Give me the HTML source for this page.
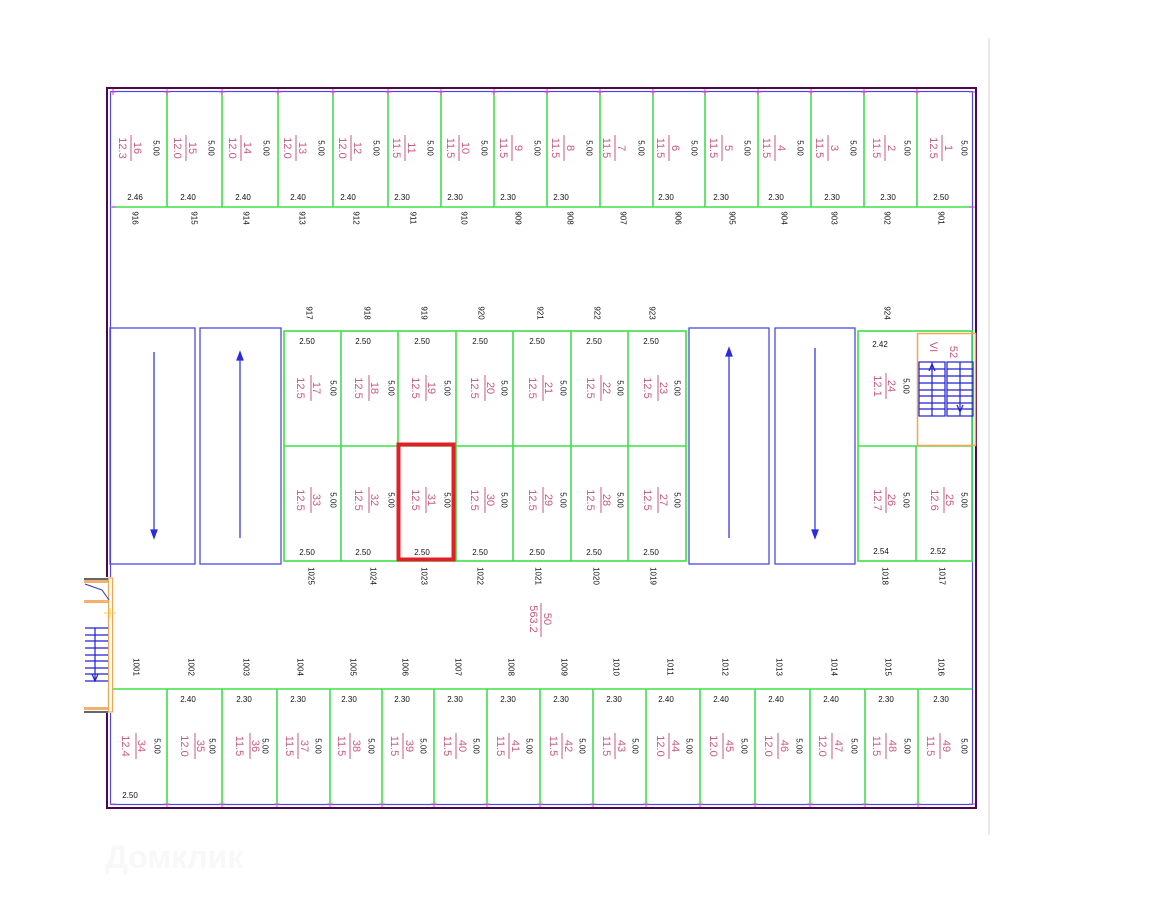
<!DOCTYPE html>
<html><head><meta charset="utf-8"><style>
html,body{margin:0;padding:0;background:#fff;}
svg{display:block;}
.p{font-family:"Liberation Sans",sans-serif;font-size:11px;fill:#c85a80;writing-mode:vertical-rl;text-anchor:middle;}
.b{font-family:"Liberation Sans",sans-serif;font-size:8px;fill:#111;writing-mode:vertical-rl;text-anchor:middle;}
.h{font-family:"Liberation Sans",sans-serif;font-size:8px;fill:#111;text-anchor:middle;}
.g{stroke:#3ee04a;stroke-width:1.6;fill:none;}
.bl{stroke:#4a4ae0;stroke-width:1.3;fill:none;}
.fl{stroke:#c85a80;stroke-width:1;}
</style></head><body>
<svg width="1152" height="915" viewBox="0 0 1152 915" xmlns="http://www.w3.org/2000/svg">
<line x1="989" y1="38" x2="989" y2="835" stroke="#e2e2e2" stroke-width="1.5"/>
<rect x="107" y="88" width="869" height="720" fill="none" stroke="#4a0a4a" stroke-width="2"/>
<rect x="110.5" y="91.5" width="862" height="713" fill="none" stroke="#4a4ae0" stroke-width="1.2"/>
<line class="g" x1="112" y1="207" x2="972" y2="207"/>
<g class="g">
<line x1="167" y1="92" x2="167" y2="207"/><line x1="222" y1="92" x2="222" y2="207"/><line x1="278" y1="92" x2="278" y2="207"/><line x1="333" y1="92" x2="333" y2="207"/><line x1="388" y1="92" x2="388" y2="207"/><line x1="441" y1="92" x2="441" y2="207"/><line x1="494" y1="92" x2="494" y2="207"/><line x1="547" y1="92" x2="547" y2="207"/><line x1="600" y1="92" x2="600" y2="207"/><line x1="653" y1="92" x2="653" y2="207"/><line x1="705" y1="92" x2="705" y2="207"/><line x1="758" y1="92" x2="758" y2="207"/><line x1="811" y1="92" x2="811" y2="207"/><line x1="864" y1="92" x2="864" y2="207"/><line x1="917" y1="92" x2="917" y2="207"/>
</g>
<g stroke="#e040e0" stroke-width="1">
<path d="M110 92h6M113 89v6M164 92h6M219 92h6M275 92h6M330 92h6M385 92h6M438 92h6M491 92h6M544 92h6M597 92h6M650 92h6M702 92h6M755 92h6M808 92h6M861 92h6M914 92h6M969 92h6M110 207h6M969 207h6M164 804h6M219 804h6M274 804h6M327 804h6M379 804h6M431 804h6M484 804h6M537 804h6M590 804h6M643 804h6M697 804h6M752 804h6M807 804h6M862 804h6M915 804h6M110 804h6M969 804h6M167 89v6M222 89v6M278 89v6M333 89v6M388 89v6M441 89v6M494 89v6M547 89v6M600 89v6M653 89v6M705 89v6M758 89v6M811 89v6M864 89v6M917 89v6M167 801v6M222 801v6M277 801v6M330 801v6M382 801v6M434 801v6M487 801v6M540 801v6M593 801v6M646 801v6M700 801v6M755 801v6M810 801v6M865 801v6M918 801v6"/>
</g>
<g>
<text class="p" x="122" y="148">12.3</text><text class="p" x="137" y="148">16</text><line class="fl" x1="131" y1="135" x2="131" y2="161"/><text class="b" x="156" y="148">5.00</text>
<text class="p" x="177" y="148">12.0</text><text class="p" x="192" y="148">15</text><line class="fl" x1="186" y1="135" x2="186" y2="161"/><text class="b" x="211" y="148">5.00</text>
<text class="p" x="232" y="148">12.0</text><text class="p" x="247" y="148">14</text><line class="fl" x1="241" y1="135" x2="241" y2="161"/><text class="b" x="266" y="148">5.00</text>
<text class="p" x="287" y="148">12.0</text><text class="p" x="302" y="148">13</text><line class="fl" x1="296" y1="135" x2="296" y2="161"/><text class="b" x="321" y="148">5.00</text>
<text class="p" x="342" y="148">12.0</text><text class="p" x="357" y="148">12</text><line class="fl" x1="351" y1="135" x2="351" y2="161"/><text class="b" x="376" y="148">5.00</text>
<text class="p" x="396" y="148">11.5</text><text class="p" x="411" y="148">11</text><line class="fl" x1="405" y1="135" x2="405" y2="161"/><text class="b" x="430" y="148">5.00</text>
<text class="p" x="450" y="148">11.5</text><text class="p" x="465" y="148">10</text><line class="fl" x1="459" y1="135" x2="459" y2="161"/><text class="b" x="484" y="148">5.00</text>
<text class="p" x="503" y="148">11.5</text><text class="p" x="518" y="148">9</text><line class="fl" x1="512" y1="135" x2="512" y2="161"/><text class="b" x="537" y="148">5.00</text>
<text class="p" x="555" y="148">11.5</text><text class="p" x="570" y="148">8</text><line class="fl" x1="564" y1="135" x2="564" y2="161"/><text class="b" x="589" y="148">5.00</text>
<text class="p" x="606" y="148">11.5</text><text class="p" x="621" y="148">7</text><line class="fl" x1="615" y1="135" x2="615" y2="161"/><text class="b" x="641" y="148">5.00</text>
<text class="p" x="660" y="148">11.5</text><text class="p" x="675" y="148">6</text><line class="fl" x1="669" y1="135" x2="669" y2="161"/><text class="b" x="694" y="148">5.00</text>
<text class="p" x="713" y="148">11.5</text><text class="p" x="728" y="148">5</text><line class="fl" x1="722" y1="135" x2="722" y2="161"/><text class="b" x="747" y="148">5.00</text>
<text class="p" x="766" y="148">11.5</text><text class="p" x="781" y="148">4</text><line class="fl" x1="775" y1="135" x2="775" y2="161"/><text class="b" x="800" y="148">5.00</text>
<text class="p" x="819" y="148">11.5</text><text class="p" x="834" y="148">3</text><line class="fl" x1="828" y1="135" x2="828" y2="161"/><text class="b" x="853" y="148">5.00</text>
<text class="p" x="876" y="148">11.5</text><text class="p" x="891" y="148">2</text><line class="fl" x1="885" y1="135" x2="885" y2="161"/><text class="b" x="907" y="148">5.00</text>
<text class="p" x="933" y="148">12.5</text><text class="p" x="948" y="148">1</text><line class="fl" x1="942" y1="135" x2="942" y2="161"/><text class="b" x="964" y="148">5.00</text>
</g>
<g class="h">
<text x="135" y="200">2.46</text><text x="188" y="200">2.40</text><text x="243" y="200">2.40</text><text x="298" y="200">2.40</text><text x="348" y="200">2.40</text><text x="402" y="200">2.30</text><text x="455" y="200">2.30</text><text x="508" y="200">2.30</text><text x="561" y="200">2.30</text><text x="666" y="200">2.30</text><text x="721" y="200">2.30</text><text x="776" y="200">2.30</text><text x="832" y="200">2.30</text><text x="888" y="200">2.30</text><text x="941" y="200">2.50</text>
</g>
<g>
<text class="b" x="135" y="218">916</text><text class="b" x="194" y="218">915</text><text class="b" x="246" y="218">914</text><text class="b" x="302" y="218">913</text><text class="b" x="356" y="218">912</text><text class="b" x="413" y="218">911</text><text class="b" x="464" y="218">910</text><text class="b" x="518" y="218">909</text><text class="b" x="570" y="218">908</text><text class="b" x="623" y="218">907</text><text class="b" x="678" y="218">906</text><text class="b" x="732" y="218">905</text><text class="b" x="784" y="218">904</text><text class="b" x="834" y="218">903</text><text class="b" x="887" y="218">902</text><text class="b" x="941" y="218">901</text>
<text class="b" x="309" y="313">917</text><text class="b" x="367" y="313">918</text><text class="b" x="424" y="313">919</text><text class="b" x="481" y="313">920</text><text class="b" x="540" y="313">921</text><text class="b" x="597" y="313">922</text><text class="b" x="652" y="313">923</text><text class="b" x="887" y="313">924</text>
<text class="b" x="311" y="576">1025</text><text class="b" x="373" y="576">1024</text><text class="b" x="424" y="576">1023</text><text class="b" x="480" y="576">1022</text><text class="b" x="538" y="576">1021</text><text class="b" x="596" y="576">1020</text><text class="b" x="653" y="576">1019</text><text class="b" x="885" y="576">1018</text><text class="b" x="942" y="576">1017</text>
<text class="b" x="136" y="667">1001</text><text class="b" x="191" y="667">1002</text><text class="b" x="246" y="667">1003</text><text class="b" x="300" y="667">1004</text><text class="b" x="353" y="667">1005</text><text class="b" x="405" y="667">1006</text><text class="b" x="458" y="667">1007</text><text class="b" x="511" y="667">1008</text><text class="b" x="564" y="667">1009</text><text class="b" x="616" y="667">1010</text><text class="b" x="670" y="667">1011</text><text class="b" x="725" y="667">1012</text><text class="b" x="779" y="667">1013</text><text class="b" x="834" y="667">1014</text><text class="b" x="888" y="667">1015</text><text class="b" x="941" y="667">1016</text>
</g>
<rect class="bl" x="110" y="328" width="85" height="236"/>
<rect class="bl" x="200" y="328" width="81" height="236"/>
<rect class="bl" x="689" y="328" width="80" height="236"/>
<rect class="bl" x="775" y="328" width="80" height="236"/>
<g stroke="#2a2ae0" stroke-width="1.2" fill="#2a2ae0">
<line x1="154" y1="352" x2="154" y2="536"/><path d="M151 530l3 8 3-8z"/>
<line x1="240" y1="356" x2="240" y2="538"/><path d="M237 360l3-8 3 8z"/>
<line x1="729" y1="352" x2="729" y2="538"/><path d="M726 356l3-8 3 8z"/>
<line x1="815" y1="348" x2="815" y2="536"/><path d="M812 530l3 8 3-8z"/>
</g>
<g class="g">
<rect x="284" y="331" width="402" height="230"/>
<line x1="284" y1="446" x2="686" y2="446"/>
<line x1="341" y1="331" x2="341" y2="561"/><line x1="398" y1="331" x2="398" y2="561"/><line x1="456" y1="331" x2="456" y2="561"/><line x1="513" y1="331" x2="513" y2="561"/><line x1="571" y1="331" x2="571" y2="561"/><line x1="628" y1="331" x2="628" y2="561"/>
<rect x="858" y="331" width="114" height="230"/>
<line x1="858" y1="446" x2="972" y2="446"/><line x1="916" y1="446" x2="916" y2="561"/>
</g>
<g class="h">
<text x="307" y="344">2.50</text><text x="363" y="344">2.50</text><text x="422" y="344">2.50</text><text x="480" y="344">2.50</text><text x="537" y="344">2.50</text><text x="594" y="344">2.50</text><text x="651" y="344">2.50</text>
<text x="307" y="555">2.50</text><text x="363" y="555">2.50</text><text x="422" y="555">2.50</text><text x="480" y="555">2.50</text><text x="537" y="555">2.50</text><text x="594" y="555">2.50</text><text x="651" y="555">2.50</text>
<text x="880" y="347">2.42</text><text x="881" y="554">2.54</text><text x="938" y="554">2.52</text>
</g>
<g>
<text class="p" x="300" y="388">12.5</text><text class="p" x="316" y="388">17</text><line class="fl" x1="311" y1="375" x2="311" y2="401"/><text class="b" x="333" y="388">5.00</text>
<text class="p" x="358" y="388">12.5</text><text class="p" x="374" y="388">18</text><line class="fl" x1="369" y1="375" x2="369" y2="401"/><text class="b" x="391" y="388">5.00</text>
<text class="p" x="415" y="388">12.5</text><text class="p" x="431" y="388">19</text><line class="fl" x1="426" y1="375" x2="426" y2="401"/><text class="b" x="447" y="388">5.00</text>
<text class="p" x="474" y="388">12.5</text><text class="p" x="490" y="388">20</text><line class="fl" x1="485" y1="375" x2="485" y2="401"/><text class="b" x="504" y="388">5.00</text>
<text class="p" x="532" y="388">12.5</text><text class="p" x="548" y="388">21</text><line class="fl" x1="543" y1="375" x2="543" y2="401"/><text class="b" x="563" y="388">5.00</text>
<text class="p" x="590" y="388">12.5</text><text class="p" x="606" y="388">22</text><line class="fl" x1="601" y1="375" x2="601" y2="401"/><text class="b" x="620" y="388">5.00</text>
<text class="p" x="647" y="388">12.5</text><text class="p" x="663" y="388">23</text><line class="fl" x1="658" y1="375" x2="658" y2="401"/><text class="b" x="677" y="388">5.00</text>
<text class="p" x="300" y="500">12.5</text><text class="p" x="316" y="500">33</text><line class="fl" x1="311" y1="487" x2="311" y2="513"/><text class="b" x="333" y="500">5.00</text>
<text class="p" x="358" y="500">12.5</text><text class="p" x="374" y="500">32</text><line class="fl" x1="369" y1="487" x2="369" y2="513"/><text class="b" x="391" y="500">5.00</text>
<text class="p" x="415" y="500">12.5</text><text class="p" x="431" y="500">31</text><line class="fl" x1="426" y1="487" x2="426" y2="513"/><text class="b" x="447" y="500">5.00</text>
<text class="p" x="474" y="500">12.5</text><text class="p" x="490" y="500">30</text><line class="fl" x1="485" y1="487" x2="485" y2="513"/><text class="b" x="504" y="500">5.00</text>
<text class="p" x="532" y="500">12.5</text><text class="p" x="548" y="500">29</text><line class="fl" x1="543" y1="487" x2="543" y2="513"/><text class="b" x="563" y="500">5.00</text>
<text class="p" x="590" y="500">12.5</text><text class="p" x="606" y="500">28</text><line class="fl" x1="601" y1="487" x2="601" y2="513"/><text class="b" x="620" y="500">5.00</text>
<text class="p" x="647" y="500">12.5</text><text class="p" x="663" y="500">27</text><line class="fl" x1="658" y1="487" x2="658" y2="513"/><text class="b" x="677" y="500">5.00</text>
<text class="p" x="877" y="386">12.1</text><text class="p" x="891" y="386">24</text><line class="fl" x1="886" y1="373" x2="886" y2="399"/><text class="b" x="906" y="386">5.00</text>
<text class="p" x="877" y="500">12.7</text><text class="p" x="891" y="500">26</text><line class="fl" x1="886" y1="487" x2="886" y2="513"/><text class="b" x="906" y="500">5.00</text>
<text class="p" x="934" y="500">12.6</text><text class="p" x="949" y="500">25</text><line class="fl" x1="944" y1="487" x2="944" y2="513"/><text class="b" x="964" y="500">5.00</text>
</g>
<rect x="398.5" y="444.5" width="55" height="115" fill="none" stroke="#e02028" stroke-width="4"/>
<rect x="917.5" y="333.5" width="58" height="112" fill="none" stroke="#f0a850" stroke-width="1.5"/>
<text class="p" x="933" y="347">VI</text><text class="p" x="953" y="352">52</text>
<g stroke="#2020d0" stroke-width="1.2" fill="none">
<rect x="919" y="362" width="26" height="54"/><rect x="947" y="362" width="26" height="54"/>
<path d="M919 369h26M919 376h26M919 383h26M919 390h26M919 396h26M919 403h26M919 409h26M947 369h26M947 376h26M947 383h26M947 390h26M947 396h26M947 403h26M947 409h26M932 362v54M960 362v54M929 371l3-7 3 7M957 405l3 7 3-7"/>
</g>
<text class="p" x="533" y="619">563.2</text><text class="p" x="547" y="619">50</text><line class="fl" x1="541" y1="603" x2="541" y2="637"/>
<line class="g" x1="112" y1="689" x2="972" y2="689"/>
<g class="g">
<line x1="167" y1="689" x2="167" y2="804"/><line x1="222" y1="689" x2="222" y2="804"/><line x1="277" y1="689" x2="277" y2="804"/><line x1="330" y1="689" x2="330" y2="804"/><line x1="382" y1="689" x2="382" y2="804"/><line x1="434" y1="689" x2="434" y2="804"/><line x1="487" y1="689" x2="487" y2="804"/><line x1="540" y1="689" x2="540" y2="804"/><line x1="593" y1="689" x2="593" y2="804"/><line x1="646" y1="689" x2="646" y2="804"/><line x1="700" y1="689" x2="700" y2="804"/><line x1="755" y1="689" x2="755" y2="804"/><line x1="810" y1="689" x2="810" y2="804"/><line x1="865" y1="689" x2="865" y2="804"/><line x1="918" y1="689" x2="918" y2="804"/>
</g>
<g class="h">
<text x="130" y="798">2.50</text><text x="188" y="702">2.40</text><text x="244" y="702">2.30</text><text x="298" y="702">2.30</text><text x="349" y="702">2.30</text><text x="402" y="702">2.30</text><text x="455" y="702">2.30</text><text x="508" y="702">2.30</text><text x="561" y="702">2.30</text><text x="614" y="702">2.30</text><text x="666" y="702">2.40</text><text x="721" y="702">2.40</text><text x="776" y="702">2.40</text><text x="831" y="702">2.40</text><text x="886" y="702">2.30</text><text x="941" y="702">2.30</text>
</g>
<g>
<text class="p" x="125" y="746">12.4</text><text class="p" x="141" y="746">34</text><line class="fl" x1="136" y1="733" x2="136" y2="759"/><text class="b" x="157" y="746">5.00</text>
<text class="p" x="184" y="746">12.0</text><text class="p" x="200" y="746">35</text><line class="fl" x1="195" y1="733" x2="195" y2="759"/><text class="b" x="212" y="746">5.00</text>
<text class="p" x="239" y="746">11.5</text><text class="p" x="255" y="746">36</text><line class="fl" x1="250" y1="733" x2="250" y2="759"/><text class="b" x="265" y="746">5.00</text>
<text class="p" x="289" y="746">11.5</text><text class="p" x="304" y="746">37</text><line class="fl" x1="298" y1="733" x2="298" y2="759"/><text class="b" x="318" y="746">5.00</text>
<text class="p" x="341" y="746">11.5</text><text class="p" x="356" y="746">38</text><line class="fl" x1="350" y1="733" x2="350" y2="759"/><text class="b" x="371" y="746">5.00</text>
<text class="p" x="394" y="746">11.5</text><text class="p" x="409" y="746">39</text><line class="fl" x1="403" y1="733" x2="403" y2="759"/><text class="b" x="423" y="746">5.00</text>
<text class="p" x="447" y="746">11.5</text><text class="p" x="462" y="746">40</text><line class="fl" x1="456" y1="733" x2="456" y2="759"/><text class="b" x="476" y="746">5.00</text>
<text class="p" x="500" y="746">11.5</text><text class="p" x="515" y="746">41</text><line class="fl" x1="509" y1="733" x2="509" y2="759"/><text class="b" x="529" y="746">5.00</text>
<text class="p" x="553" y="746">11.5</text><text class="p" x="568" y="746">42</text><line class="fl" x1="562" y1="733" x2="562" y2="759"/><text class="b" x="582" y="746">5.00</text>
<text class="p" x="606" y="746">11.5</text><text class="p" x="621" y="746">43</text><line class="fl" x1="615" y1="733" x2="615" y2="759"/><text class="b" x="635" y="746">5.00</text>
<text class="p" x="660" y="746">12.0</text><text class="p" x="675" y="746">44</text><line class="fl" x1="669" y1="733" x2="669" y2="759"/><text class="b" x="689" y="746">5.00</text>
<text class="p" x="713" y="746">12.0</text><text class="p" x="729" y="746">45</text><line class="fl" x1="723" y1="733" x2="723" y2="759"/><text class="b" x="744" y="746">5.00</text>
<text class="p" x="768" y="746">12.0</text><text class="p" x="784" y="746">46</text><line class="fl" x1="778" y1="733" x2="778" y2="759"/><text class="b" x="799" y="746">5.00</text>
<text class="p" x="822" y="746">12.0</text><text class="p" x="838" y="746">47</text><line class="fl" x1="832" y1="733" x2="832" y2="759"/><text class="b" x="854" y="746">5.00</text>
<text class="p" x="876" y="746">11.5</text><text class="p" x="892" y="746">48</text><line class="fl" x1="886" y1="733" x2="886" y2="759"/><text class="b" x="907" y="746">5.00</text>
<text class="p" x="930" y="746">11.5</text><text class="p" x="946" y="746">49</text><line class="fl" x1="940" y1="733" x2="940" y2="759"/><text class="b" x="964" y="746">5.00</text>
</g>
<rect x="84" y="577" width="28" height="136" fill="#fff"/>
<g fill="none">
<path d="M84 579h24M84 712h24" stroke="#333" stroke-width="1.5"/>
<path d="M84 581.5h25M84 601.5h25M84 708.5h25" stroke="#f0b070" stroke-width="3"/>
<rect x="108.5" y="578" width="4" height="134" stroke="#f0a850" stroke-width="1.2"/>
<path d="M106 600v2M104 613h12M110 608v10" stroke="#f0d040" stroke-width="1"/>
<path d="M85 584l17 6 7 10" stroke="#3030d0" stroke-width="1"/>
<path d="M85 628h23M85 635h23M85 641h23M85 648h23M85 655h23M85 661h23M85 668h23M85 674h23M85 681h23M95 628v53M92 674l3 7 3-7" stroke="#2020d0" stroke-width="1.2"/>
</g>
<text x="105" y="868" font-family="Liberation Sans,sans-serif" font-size="32" font-weight="bold" fill="#f8f8f8">Домклик</text>
</svg>
</body></html>
